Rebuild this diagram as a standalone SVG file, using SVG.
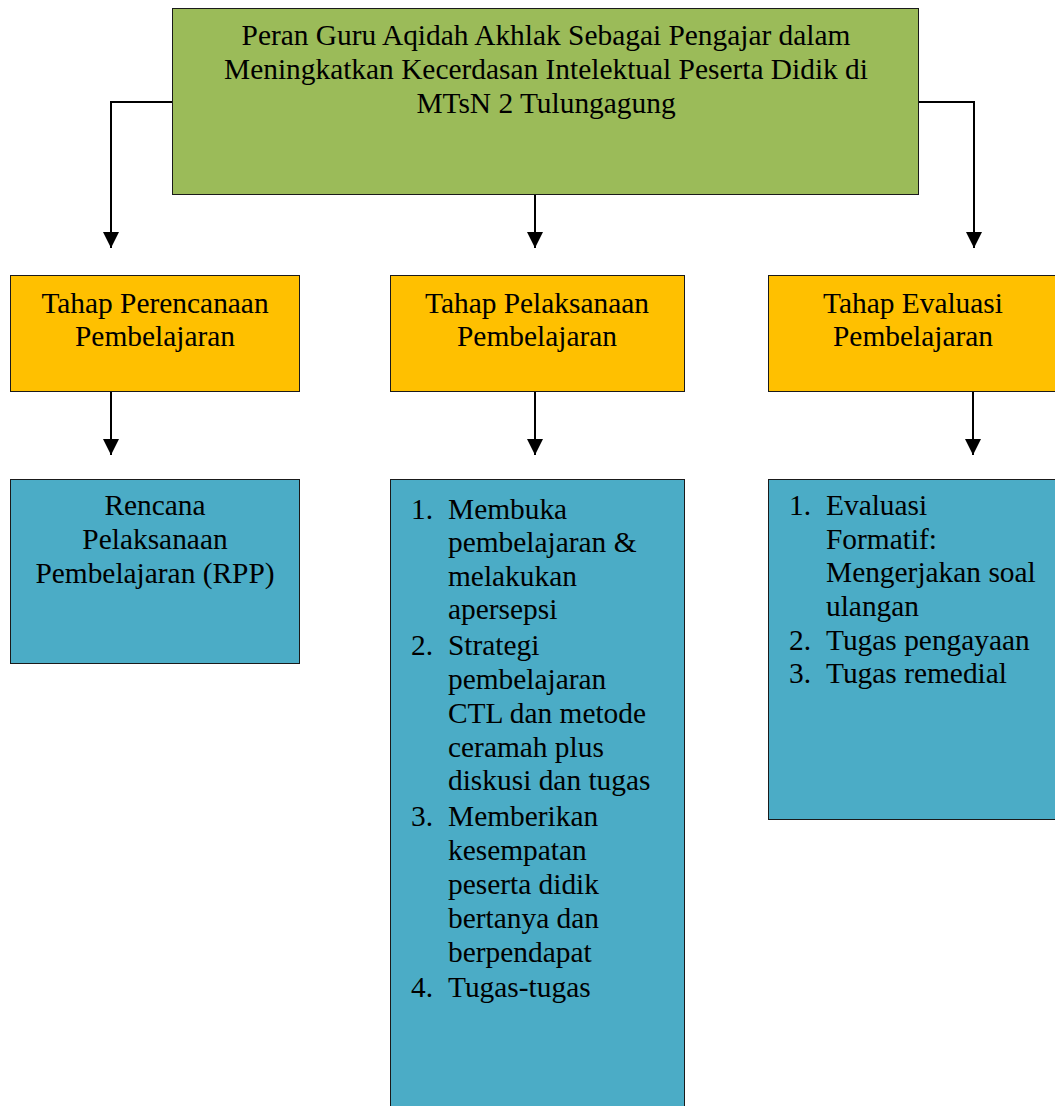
<svg xmlns="http://www.w3.org/2000/svg" width="1055" height="1106" viewBox="0 0 1055 1106">
<style>
text { font-family: "Liberation Serif", "Times New Roman", serif; font-size: 29.4px; fill: #000; }
.c { text-anchor: middle; }
.box { stroke: #1a1a1a; stroke-width: 1; }
.green { fill: #9BBB59; }
.orange { fill: #FFC000; }
.blue { fill: #4BACC6; }
.conn { fill: none; stroke: #000; stroke-width: 2; }
</style>
<defs>
<marker id="arr" markerWidth="16" markerHeight="16" viewBox="0 0 16 16" refX="16" refY="8" orient="auto" markerUnits="userSpaceOnUse">
<path d="M0,0 L16,8 L0,16 z" fill="#000"/>
</marker>
</defs>
<rect width="1055" height="1106" fill="#fff"/>
<g id="connectors">
<path class="conn" d="M172,102 H111 V248" marker-end="url(#arr)"/>
<path class="conn" d="M535,194 V248" marker-end="url(#arr)"/>
<path class="conn" d="M918,102 H974 V248" marker-end="url(#arr)"/>
<path class="conn" d="M111,391 V455" marker-end="url(#arr)"/>
<path class="conn" d="M535,391 V455" marker-end="url(#arr)"/>
<path class="conn" d="M973,391 V455" marker-end="url(#arr)"/>
</g>
<g id="root">
<rect class="box green" x="172.5" y="8.5" width="746" height="186"/>
<text class="c" x="546" y="45">Peran Guru Aqidah Akhlak Sebagai Pengajar dalam</text>
<text class="c" x="546" y="79">Meningkatkan Kecerdasan Intelektual Peserta Didik di</text>
<text class="c" x="546" y="113">MTsN 2 Tulungagung</text>
</g>
<g id="tahap-perencanaan">
<rect class="box orange" x="10.5" y="275.5" width="289" height="116"/>
<text class="c" x="155" y="313">Tahap Perencanaan</text>
<text class="c" x="155" y="346">Pembelajaran</text>
</g>
<g id="tahap-pelaksanaan">
<rect class="box orange" x="390.5" y="275.5" width="294" height="116"/>
<text class="c" x="537" y="313">Tahap Pelaksanaan</text>
<text class="c" x="537" y="346">Pembelajaran</text>
</g>
<g id="tahap-evaluasi">
<rect class="box orange" x="768.5" y="275.5" width="292" height="116"/>
<text class="c" x="913" y="313">Tahap Evaluasi</text>
<text class="c" x="913" y="346">Pembelajaran</text>
</g>
<g id="rpp">
<rect class="box blue" x="10.5" y="479.5" width="289" height="184"/>
<text class="c" x="155" y="515">Rencana</text>
<text class="c" x="155" y="549">Pelaksanaan</text>
<text class="c" x="155" y="583">Pembelajaran (RPP)</text>
</g>
<g id="pelaksanaan-list">
<rect class="box blue" x="390.5" y="479.5" width="294" height="640"/>
<text x="411" y="519">1.</text>
<text x="448" y="519">Membuka</text>
<text x="448" y="552">pembelajaran &amp;</text>
<text x="448" y="586">melakukan</text>
<text x="448" y="619">apersepsi</text>
<text x="411" y="655">2.</text>
<text x="448" y="655">Strategi</text>
<text x="448" y="689">pembelajaran</text>
<text x="448" y="723">CTL dan metode</text>
<text x="448" y="757">ceramah plus</text>
<text x="448" y="790">diskusi dan tugas</text>
<text x="411" y="826">3.</text>
<text x="448" y="826">Memberikan</text>
<text x="448" y="860">kesempatan</text>
<text x="448" y="894">peserta didik</text>
<text x="448" y="928">bertanya dan</text>
<text x="448" y="962">berpendapat</text>
<text x="411" y="997">4.</text>
<text x="448" y="997">Tugas-tugas</text>
</g>
<g id="evaluasi-list">
<rect class="box blue" x="768.5" y="479.5" width="292" height="340"/>
<text x="789" y="515">1.</text>
<text x="826" y="515">Evaluasi</text>
<text x="826" y="549">Formatif:</text>
<text x="826" y="582">Mengerjakan soal</text>
<text x="826" y="616">ulangan</text>
<text x="789" y="650">2.</text>
<text x="826" y="650">Tugas pengayaan</text>
<text x="789" y="683">3.</text>
<text x="826" y="683">Tugas remedial</text>
</g>
</svg>
